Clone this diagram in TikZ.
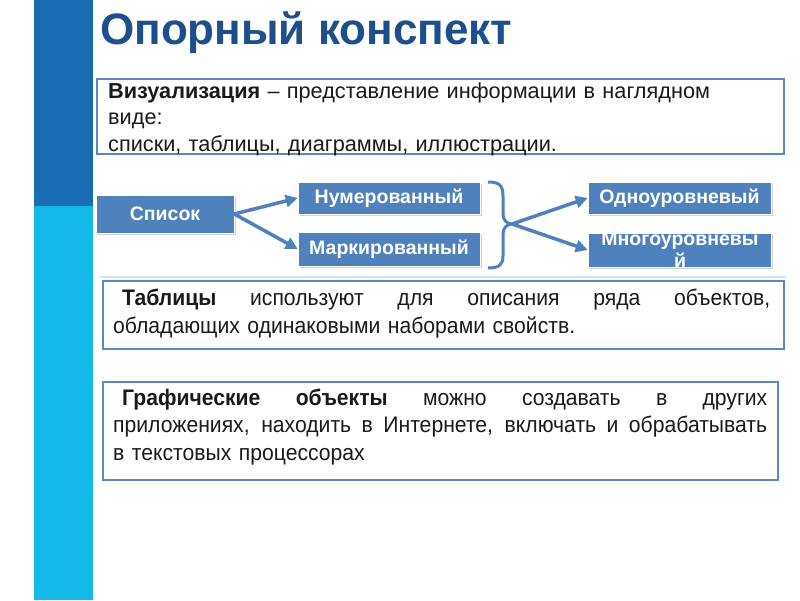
\documentclass[tikz,border=0pt]{standalone}
\usepackage{fontspec}
\setmainfont{Liberation Sans}
\newfontfamily\narrowfont[FakeStretch=0.94]{Liberation Sans}
\usetikzlibrary{arrows.meta,shadows}
\definecolor{bardark}{HTML}{1A6DB5}
\definecolor{barcyan}{HTML}{14B9EA}
\definecolor{titleblue}{HTML}{1F4E8C}
\definecolor{nodeblue}{HTML}{4F81BD}
\definecolor{frameblue}{HTML}{5B87C4}
\definecolor{lightline}{HTML}{CBE6F6}
\definecolor{textgray}{HTML}{1A1A1A}
\newcommand\fullline[2]{\leavevmode\hbox to #1{\spaceskip=0.25em plus 1fil\relax #2}}
\tikzset{
  x=1pt,y=-1pt,
  nodefont/.style={font=\fontsize{19.5}{21}\selectfont\bfseries},
  listbox/.style={fill=nodeblue, draw=white, line width=0.6pt, text=white, inner sep=0pt, nodefont,
    drop shadow={shadow xshift=1.5pt, shadow yshift=-1.8pt, opacity=0.35}},
  framebox/.style={draw=frameblue, line width=2pt},
  conn/.style={draw=nodeblue, line width=3.5pt, -{Triangle[length=12pt,width=12pt]}},
  bracepath/.style={draw=nodeblue, line width=3pt}
}
\begin{document}
\begin{tikzpicture}
\useasboundingbox (0,0) rectangle (800,600);
\fill[white] (0,0) rectangle (800,600);
% left bar
\fill[bardark] (34,0) rectangle (93,206);
\fill[barcyan] (34,206) rectangle (93,600);
% title
\node[anchor=base west, inner sep=0pt, text=titleblue, font=\fontsize{44}{50}\selectfont\bfseries] (title) at (100,44) {Опорный конспект};
% box 1
\draw[framebox] (97,79) rectangle (784,154);
\node[anchor=base west, inner sep=0pt, text width=670pt, align=left, text=textgray,
  font=\fontsize{21.7}{26.5}\selectfont] (vis) at (108,98)
  {\textbf{Визуализация} – представление информации в наглядном\\виде:\\списки, таблицы, диаграммы, иллюстрации.};
% faint line
\draw[lightline, line width=2pt] (100,277) -- (786,277);
% list nodes
\node[listbox, minimum width=138pt, minimum height=38pt] (spisok) at (165,214) {Список};
\node[listbox, minimum width=182pt, minimum height=32pt] (num) at (389,198) {Нумерованный};
\node[listbox, minimum width=182pt, minimum height=34pt] (mark) at (389,249) {Маркированный};
\node[listbox, minimum width=183pt, minimum height=32pt] (odno) at (679.5,198) {Одноуровневый};
\node[listbox, minimum width=183pt, minimum height=34pt] (mnogo) at (679.5,250) {};
\node[anchor=base, inner sep=0pt, text=white, nodefont] (mnogo1) at (680,245) {Многоуровневы};
\node[anchor=base, inner sep=0pt, text=white, nodefont] (mnogo2) at (680,267) {й};
% arrows from Список
\draw[conn] (spisok.east) -- (num.west);
\draw[conn] (spisok.east) -- (mark.west);
% brace
\coordinate (nose) at (512,224);
\draw[bracepath] (488,182) .. controls (500,182) and (503,186) .. (503,196) -- (503,214)
  .. controls (503,220) and (507,224) .. (nose)
  .. controls (507,224) and (503,228) .. (503,234) -- (503,256)
  .. controls (503,264) and (500,268) .. (488,268);
\draw[conn] (nose) -- (odno.west);
\draw[conn] (nose) -- (mnogo.west);
% box 3
\draw[framebox] (103,281) rectangle (784,349);
\node[anchor=base west, inner sep=0pt, text width=657pt, align=left, text=textgray,
  font=\narrowfont\fontsize{22.5}{28}\selectfont] (tabl) at (113,305)
  {\fullline{657pt}{\hspace*{9pt}\textbf{Таблицы} используют для описания ряда объектов,}\\обладающих одинаковыми наборами свойств.};
% box 4
\draw[framebox] (103,382) rectangle (778,480);
\node[anchor=base west, inner sep=0pt, text width=654pt, align=left, text=textgray,
  font=\narrowfont\fontsize{22.5}{27.5}\selectfont] (graf) at (113,405)
  {\fullline{654pt}{\hspace*{9pt}\textbf{Графические объекты} можно создавать в других}\\\fullline{654pt}{приложениях, находить в Интернете, включать и обрабатывать}\\в текстовых процессорах};
\end{tikzpicture}
\end{document}
